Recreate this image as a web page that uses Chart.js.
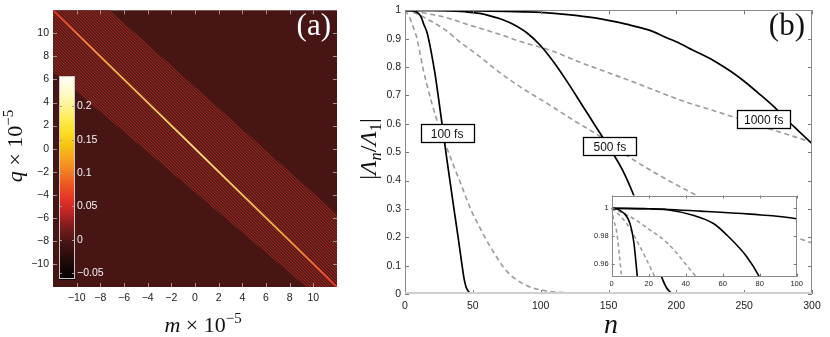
<!DOCTYPE html>
<html><head><meta charset="utf-8">
<script src="https://cdn.jsdelivr.net/npm/chart.js@4"></script>
<style>
html,body{margin:0;padding:0;background:#fff;}
#wrap{position:relative;width:830px;height:337px;overflow:hidden;background:#fff;}
canvas{position:absolute;}
</style>
</head><body><div id="wrap">
<canvas id="ca" width="355" height="337" style="left:0;top:0"></canvas>
<canvas id="cbar" width="60" height="220" style="left:55px;top:68px"></canvas>
<canvas id="cmain" width="475" height="337" style="left:355px;top:0"></canvas>
<canvas id="cins" width="225" height="102" style="left:585px;top:188px"></canvas>
</div>
<script>
// ---------------- Panel (a) data ----------------
const aTicks = [-10, -8, -6, -4, -2, 0, 2, 4, 6, 8, 10];
const aRange = [-12, 12];
const diagM = [-12, 12];
const diagQ = [12, -12];
const bandM = [-12, -7.2, 12, 12, 9.4, -12];
const bandQ = [12, 12, -5.7, -12, -12, 6.7];
const cbarTicks = [-0.05, 0, 0.05, 0.1, 0.15, 0.2];
const cbarRange = [-0.06, 0.245];
const cmapValues = [-0.06, -0.045, -0.03, -0.01, 0, 0.02, 0.04, 0.06, 0.08, 0.1, 0.12, 0.14, 0.16, 0.18, 0.2, 0.22, 0.245];
const cmapColors = ['#030000','#120606','#240a0a','#3e1212','#521616','#7e1c1c','#bc2424','#e43224','#ec5222','#f27a22','#f6a01e','#f8c010','#fcde20','#fdec50','#fef390','#fffac8','#fffff4'];

// ---------------- Panel (b) data ----------------
const bXTicks = [0, 50, 100, 150, 200, 250, 300];
const bYTicks = [0, 0.1, 0.2, 0.3, 0.4, 0.5, 0.6, 0.7, 0.8, 0.9, 1];
const insXTicks = [0, 20, 40, 60, 80, 100];
const insYTicks = [0.96, 0.98, 1];

const s100N = [0, 3, 5, 7, 9, 10.5, 12, 13.9, 16, 18, 20, 22, 25, 28, 31, 34, 37, 39.3, 41.8, 43.5, 45, 46.5, 48, 50, 53, 300];
const s100V = [1, 0.9995, 0.998, 0.996, 0.992, 0.986, 0.975, 0.95, 0.925, 0.885, 0.835, 0.78, 0.68, 0.575, 0.47, 0.37, 0.27, 0.195, 0.11, 0.055, 0.025, 0.011, 0.004, 0.001, 0, 0];

const s500N = [0, 20, 30, 44, 55, 62, 73, 80, 90, 100, 110, 120, 130, 140, 150, 160, 168, 175, 181, 186, 190, 193, 196, 199, 300];
const s500V = [1, 0.9997, 0.999, 0.995, 0.989, 0.981, 0.965, 0.95, 0.92, 0.875, 0.815, 0.745, 0.67, 0.595, 0.52, 0.44, 0.355, 0.265, 0.18, 0.105, 0.05, 0.02, 0.005, 0, 0];

const s1000N = [0, 20, 48, 75, 100, 120, 140, 163, 180, 192, 203, 212, 227, 240, 250, 260, 271.5, 281, 290, 300];
const s1000V = [1, 0.9997, 0.998, 0.9958, 0.9924, 0.985, 0.973, 0.951, 0.93, 0.905, 0.882, 0.86, 0.824, 0.785, 0.75, 0.71, 0.662, 0.616, 0.575, 0.53];

const d1N = [0, 1, 2.7, 4, 5.4, 7, 8.6, 11, 13.5, 16, 19.7, 24, 28, 32, 36, 40.5, 45, 49, 54, 59, 65, 72.5, 80, 92, 105, 120, 140, 170];
const d1V = [1, 0.992, 0.983, 0.968, 0.95, 0.928, 0.905, 0.85, 0.79, 0.74, 0.674, 0.605, 0.55, 0.5, 0.45, 0.396, 0.34, 0.292, 0.245, 0.199, 0.15, 0.095, 0.058, 0.025, 0.01, 0.004, 0.001, 0];

const d2N = [0, 5, 10, 15, 23.4, 30, 40, 52.8, 70, 85, 107, 125, 144, 163, 185, 210, 240, 270, 300];
const d2V = [1, 0.994, 0.985, 0.973, 0.95, 0.93, 0.89, 0.845, 0.78, 0.73, 0.665, 0.61, 0.555, 0.49, 0.425, 0.36, 0.29, 0.23, 0.18];

const d3N = [0, 10, 20, 30, 46, 60, 70, 85, 107, 130, 150, 175, 205, 225, 244.5, 270, 300];
const d3V = [1, 0.994, 0.985, 0.975, 0.95, 0.93, 0.915, 0.89, 0.859, 0.815, 0.78, 0.735, 0.68, 0.65, 0.62, 0.58, 0.535];

const curveLabels = ['100 fs', '500 fs', '1000 fs'];
const labelAnchorN = [31, 151, 264.4];
const labelAnchorV = [0.566, 0.521, 0.616];

// ---------------- helpers ----------------
Chart.defaults.font.family = "'Liberation Sans', Arial, Helvetica, sans-serif";
Chart.defaults.color = '#222';
const SERIF = "'Liberation Serif', 'DejaVu Serif', 'Times New Roman', serif";
const fmt = v => (v < 0 ? '\u2212' : '') + Math.abs(v);
const pts = (xs, ys) => xs.map((x, i) => ({x: x, y: ys[i]}));
const setTicks = arr => (s => { s.ticks = arr.map(v => ({value: v})); });

function drawRich(ctx, it) {
  ctx.save();
  ctx.translate(it.x, it.y);
  if (it.rot) ctx.rotate(it.rot);
  ctx.fillStyle = it.color || '#111';
  ctx.textBaseline = 'alphabetic';
  let total = 0;
  const parts = it.segs.map(s => {
    const fs = (s.sub || s.sup) ? it.size * 0.68 : it.size;
    const font = (s.italic ? 'italic ' : '') + fs + 'px ' + SERIF;
    ctx.font = font;
    const w = ctx.measureText(s.t).width + (s.kern || 0);
    total += w;
    return {s, font, w};
  });
  let cur = it.align === 'right' ? -total : (it.align === 'left' ? 0 : -total / 2);
  parts.forEach(p => {
    ctx.font = p.font;
    const dy = p.s.sub ? it.size * 0.22 : (p.s.sup ? -it.size * 0.4 : 0);
    ctx.fillText(p.s.t, cur, dy);
    cur += p.w;
  });
  ctx.restore();
}
const richPlugin = items => ({id: 'rich', afterDraw(chart) { items.forEach(it => drawRich(chart.ctx, it)); }});

const ticksPlugin = cfg => ({
  id: 'innerTicks',
  afterDatasetsDraw(chart) {
    const {ctx, chartArea: a} = chart;
    ctx.save();
    ctx.strokeStyle = cfg.color; ctx.lineWidth = 1;
    ctx.beginPath();
    if (cfg.x !== false) chart.scales.x.ticks.forEach(t => {
      const p = Math.round(chart.scales.x.getPixelForValue(t.value)) + 0.5;
      ctx.moveTo(p, a.bottom); ctx.lineTo(p, a.bottom - cfg.len);
      ctx.moveTo(p, a.top); ctx.lineTo(p, a.top + cfg.len);
    });
    if (cfg.y !== false) chart.scales.y.ticks.forEach(t => {
      const p = Math.round(chart.scales.y.getPixelForValue(t.value)) + 0.5;
      ctx.moveTo(a.left, p); ctx.lineTo(a.left + cfg.len, p);
      ctx.moveTo(a.right, p); ctx.lineTo(a.right - cfg.len, p);
    });
    ctx.stroke();
    ctx.restore();
  }
});

const framePlugin = cfg => ({
  id: 'frame',
  beforeDatasetsDraw(chart) {
    if (!cfg.fill) return;
    const {ctx, chartArea: a} = chart;
    ctx.save(); ctx.fillStyle = cfg.fill;
    ctx.fillRect(a.left, a.top, a.right - a.left, a.bottom - a.top);
    ctx.restore();
  },
  afterDraw(chart) {
    if (!cfg.stroke) return;
    const {ctx, chartArea: a} = chart;
    ctx.save(); ctx.strokeStyle = cfg.stroke; ctx.lineWidth = 1;
    ctx.strokeRect(Math.round(a.left) + 0.5, Math.round(a.top) + 0.5, Math.round(a.right - a.left) - 1, Math.round(a.bottom - a.top) - 1);
    if (cfg.bottom) {
      ctx.strokeStyle = cfg.bottom; ctx.lineWidth = 2;
      ctx.beginPath(); ctx.moveTo(a.left, a.bottom - 1); ctx.lineTo(a.right, a.bottom - 1); ctx.stroke();
    }
    ctx.restore();
  }
});

const baseOpts = () => ({
  responsive: false, animation: false, events: [],
  plugins: {legend: {display: false}, tooltip: {enabled: false}}
});

// ---------------- Panel (a) ----------------
const stripe = (() => {
  const c = document.createElement('canvas'); c.width = 3; c.height = 3;
  const g = c.getContext('2d');
  g.fillStyle = '#5a1a18'; g.fillRect(0, 0, 3, 3);
  g.fillStyle = '#962820';
  for (let i = 0; i < 3; i++) g.fillRect(i, i, 1, 1);
  return g.createPattern(c, 'repeat');
})();

function diagGradient(ctx) {
  const ch = ctx.chart;
  if (!ch.chartArea) return '#f0a030';
  const x = ch.scales.x, y = ch.scales.y;
  const x0 = x.getPixelForValue(diagM[0]), y0 = y.getPixelForValue(diagQ[0]);
  const x1 = x.getPixelForValue(diagM[1]), y1 = y.getPixelForValue(diagQ[1]);
  if (![x0, y0, x1, y1].every(Number.isFinite)) return '#f0a030';
  const g = ch.ctx.createLinearGradient(x0, y0, x1, y1);
  g.addColorStop(0, '#e6302a'); g.addColorStop(0.08, '#f06a2a'); g.addColorStop(0.2, '#f8b040');
  g.addColorStop(0.5, '#ffe27a'); g.addColorStop(0.8, '#f8b040'); g.addColorStop(0.92, '#f06a2a'); g.addColorStop(1, '#e6302a');
  return g;
}

new Chart(document.getElementById('ca'), {
  type: 'line',
  data: {datasets: [
    // first dataset is painted last (on top)
    {data: pts(diagM, diagQ), fill: false, borderColor: diagGradient, borderWidth: 1.8, pointRadius: 0, tension: 0},
    {data: pts(bandM, bandQ), fill: 'shape', backgroundColor: stripe, borderColor: 'rgba(0,0,0,0)', borderWidth: 0, pointRadius: 0, tension: 0}
  ]},
  options: Object.assign(baseOpts(), {
    layout: {padding: {top: 4, right: 18, left: 0, bottom: 0}},
    scales: {
      x: {type: 'linear', min: aRange[0], max: aRange[1], afterBuildTicks: setTicks(aTicks), afterFit: s => { s.height = 50; },
          grid: {display: false, drawTicks: false}, border: {display: false},
          ticks: {padding: 5, autoSkip: false, maxRotation: 0, font: {size: 10.5}, callback: v => fmt(v)}},
      y: {type: 'linear', min: aRange[0], max: aRange[1], afterBuildTicks: setTicks(aTicks), afterFit: s => { s.width = 53; },
          grid: {display: false, drawTicks: false}, border: {display: false},
          ticks: {padding: 4, autoSkip: false, font: {size: 10.5}, callback: v => fmt(v)}}
    }
  }),
  plugins: [
    framePlugin({fill: '#481515'}),
    ticksPlugin({color: '#a89090', len: 4}),
    richPlugin([
      {segs: [{t: 'm', italic: true}, {t: ' \u00d7 10'}, {t: '\u22125', sup: true}], x: 203, y: 332, size: 22},
      {segs: [{t: 'q', italic: true}, {t: ' \u00d7 10'}, {t: '\u22125', sup: true}], x: 22, y: 146, rot: -Math.PI / 2, size: 22},
      {segs: [{t: '(a)'}], x: 331, y: 35, size: 31, align: 'right', color: '#ffffff'}
    ])
  ]
});

// colour bar
function cbGradient(ctx) {
  const ch = ctx.chart;
  if (!ch.chartArea) return '#800';
  const y = ch.scales.y;
  const y0 = y.getPixelForValue(cbarRange[0]), y1 = y.getPixelForValue(cbarRange[1]);
  if (!Number.isFinite(y0) || !Number.isFinite(y1)) return '#800';
  const g = ch.ctx.createLinearGradient(0, y0, 0, y1);
  cmapValues.forEach((v, i) => g.addColorStop(Math.min(1, Math.max(0, (v - cbarRange[0]) / (cbarRange[1] - cbarRange[0]))), cmapColors[i]));
  return g;
}
new Chart(document.getElementById('cbar'), {
  type: 'bar',
  data: {labels: [''], datasets: [{data: [cbarRange], backgroundColor: cbGradient, borderWidth: 0, barPercentage: 1, categoryPercentage: 1}]},
  options: Object.assign(baseOpts(), {
    layout: {padding: {left: 4, top: 4, bottom: 6, right: 0}},
    scales: {
      x: {display: false},
      y: {position: 'right', min: cbarRange[0], max: cbarRange[1], afterBuildTicks: setTicks(cbarTicks), afterFit: s => { s.width = 40; },
          grid: {display: false, drawTicks: false}, border: {display: false},
          ticks: {color: '#f4f4f4', padding: 2, autoSkip: false, font: {size: 10.5}, callback: v => fmt(v)}}
    }
  }),
  plugins: [framePlugin({stroke: '#c8c8c8'}), ticksPlugin({color: '#9a9a9a', len: 3, x: false})]
});

// ---------------- Panel (b) ----------------
// solid curves first so that they are painted over the dashed ones
const curves = [
  {n: s100N, v: s100V, dashed: false},
  {n: s500N, v: s500V, dashed: false},
  {n: s1000N, v: s1000V, dashed: false},
  {n: d1N, v: d1V, dashed: true},
  {n: d2N, v: d2V, dashed: true},
  {n: d3N, v: d3V, dashed: true}
];
const mkSets = (lw, dash) => curves.map(c => ({
  data: pts(c.n, c.v),
  borderColor: c.dashed ? '#9c9c9c' : '#000000',
  borderWidth: c.dashed ? lw * 0.95 : lw,
  borderDash: c.dashed ? dash : [],
  pointRadius: 0, fill: false, cubicInterpolationMode: 'monotone'
}));

const boxLabels = {
  id: 'boxLabels',
  afterDatasetsDraw(chart) {
    const {ctx} = chart; const x = chart.scales.x, y = chart.scales.y;
    ctx.save();
    curveLabels.forEach((t, i) => {
      const px = x.getPixelForValue(labelAnchorN[i]), py = y.getPixelForValue(labelAnchorV[i]);
      const w = 53, h = 18;
      ctx.fillStyle = '#fff'; ctx.fillRect(px - w / 2, py - h / 2, w, h);
      ctx.strokeStyle = '#000'; ctx.lineWidth = 1.3; ctx.strokeRect(Math.round(px - w / 2) + 0.5, Math.round(py - h / 2) + 0.5, w, h);
      ctx.fillStyle = '#111'; ctx.font = "12px 'Liberation Sans', Arial, sans-serif";
      ctx.textAlign = 'center'; ctx.textBaseline = 'middle';
      ctx.fillText(t, px, py + 1);
    });
    ctx.restore();
  }
};

new Chart(document.getElementById('cmain'), {
  type: 'line',
  data: {datasets: mkSets(1.7, [5, 3.5])},
  options: Object.assign(baseOpts(), {
    layout: {padding: {top: 6, right: 18, left: 0, bottom: 0}},
    scales: {
      x: {type: 'linear', min: 0, max: 300, afterBuildTicks: setTicks(bXTicks), afterFit: s => { s.height = 43; },
          grid: {display: false, drawTicks: false}, border: {display: false},
          ticks: {padding: 6, autoSkip: false, maxRotation: 0, font: {size: 10.5}, callback: v => fmt(v)}},
      y: {type: 'linear', min: 0, max: 1, afterBuildTicks: setTicks(bYTicks), afterFit: s => { s.width = 50; },
          grid: {display: false, drawTicks: false}, border: {display: false},
          ticks: {padding: 4, autoSkip: false, font: {size: 10.5}, callback: v => fmt(v)}}
    }
  }),
  plugins: [
    framePlugin({stroke: '#8a8a8a', bottom: '#cfcfcf'}),
    ticksPlugin({color: '#777', len: 4}),
    boxLabels,
    richPlugin([
      {segs: [{t: '|'}, {t: '\u039b', italic: true}, {t: 'n', italic: true, sub: true}, {t: '/'}, {t: '\u039b', italic: true}, {t: '1', sub: true}, {t: '|'}], x: 21, y: 149, rot: -Math.PI / 2, size: 24},
      {segs: [{t: 'n', italic: true}], x: 256, y: 333, size: 28},
      {segs: [{t: '(b)'}], x: 450, y: 35, size: 31, align: 'right', color: '#111'}
    ])
  ]
});

// inset
new Chart(document.getElementById('cins'), {
  type: 'line',
  data: {datasets: mkSets(1.6, [4, 3])},
  options: Object.assign(baseOpts(), {
    layout: {padding: {top: 4.3, right: 13.3, left: 0, bottom: 0}},
    scales: {
      x: {type: 'linear', min: 0, max: 100, afterBuildTicks: setTicks(insXTicks), afterFit: s => { s.height = 13.3; },
          grid: {display: false, drawTicks: false}, border: {display: false},
          ticks: {padding: 3, autoSkip: false, maxRotation: 0, font: {size: 7.5}, callback: v => fmt(v)}},
      y: {type: 'linear', min: 0.9505, max: 1.0093, afterBuildTicks: setTicks(insYTicks), afterFit: s => { s.width = 26.7; },
          grid: {display: false, drawTicks: false}, border: {display: false},
          ticks: {padding: 3, autoSkip: false, font: {size: 7.5}, callback: v => fmt(v)}}
    }
  }),
  plugins: [framePlugin({fill: '#ffffff', stroke: '#8a8a8a'}), ticksPlugin({color: '#777', len: 3})]
});
</script>
</body></html>
